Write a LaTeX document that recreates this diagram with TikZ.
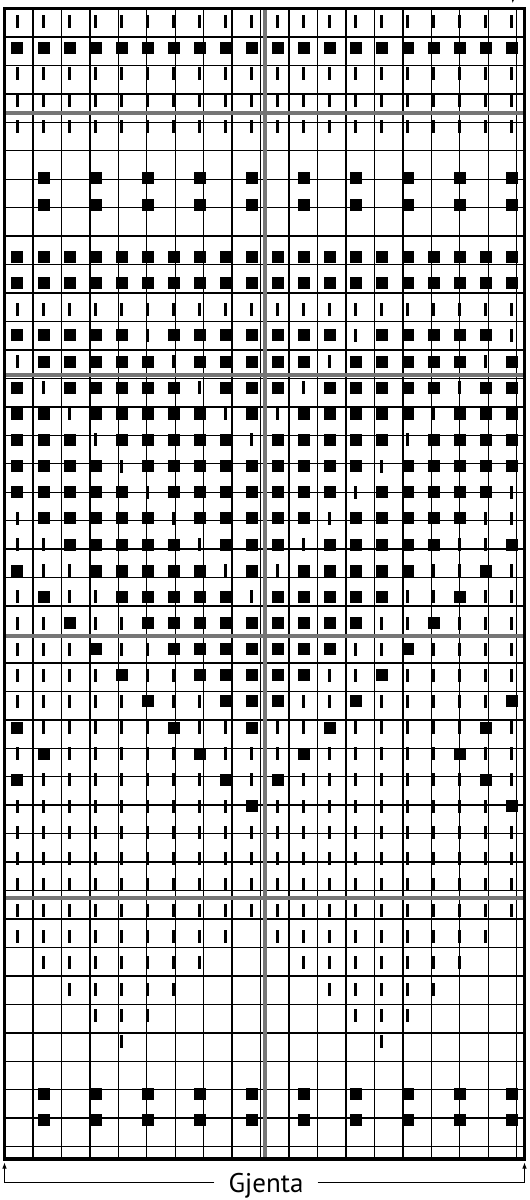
\documentclass[tikz,border=0pt]{standalone}
\usepackage{fontspec}
\setsansfont{PT Sans}
\usepackage{tikz}
\usetikzlibrary{arrows.meta}
\definecolor{chartgray}{RGB}{118, 118, 118}
\tikzset{
    cellline/.style={
        draw=black,
        line width=1.4pt
    },
    guide/.style={
        draw=chartgray,
        line width=4pt
    },
    frame/.style={
        draw=black,
        line width=3.4pt
    },
    sym0/.style={
        inner sep=0pt,
        minimum size=0pt
    },
    sym1/.style={
        fill=black,
        inner sep=0pt,
        minimum width=3pt,
        minimum height=13pt
    },
    sym2/.style={
        fill=black,
        inner sep=0pt,
        minimum width=12pt,
        minimum height=12pt
    },
    bracket/.style={
        -{Latex[length=6pt, width=4.6pt]},
        line width=1pt
    }
}

\begin{document}
\begin{tikzpicture}[
        x=26pt, y=-26.15pt,
        repeatlbl/.style={font=\sffamily\fontsize{27}{30}\selectfont, anchor=base,
            text height=19pt, text depth=0pt, inner xsep=14pt, inner ysep=0pt}
    ]
        \useasboundingbox (-4.5pt,8.5pt) rectangle (525.5pt,-1191.5pt);
        % 20 stitches wide, 44 rows high; row 1 is the top row.
        \draw[cellline] (0,0) grid (20,44);
        \draw[guide] (10,0) -- (10,44);
        \foreach \r in {4,14,24,34}
            \draw[guide] (0,\r) -- (20,\r);
        \draw[frame] (0,0) rectangle (20,44);

        % 0 = blank, 1 = bar, 2 = filled square
        \foreach \row [count=\r] in {
            {1,1,1,1,1,1,1,1,1,1,1,1,1,1,1,1,1,1,1,1},
            {2,2,2,2,2,2,2,2,2,2,2,2,2,2,2,2,2,2,2,2},
            {1,1,1,1,1,1,1,1,1,1,1,1,1,1,1,1,1,1,1,1},
            {1,1,1,1,1,1,1,1,1,1,1,1,1,1,1,1,1,1,1,1},
            {1,1,1,1,1,1,1,1,1,1,1,1,1,1,1,1,1,1,1,1},
            {0,0,0,0,0,0,0,0,0,0,0,0,0,0,0,0,0,0,0,0},
            {0,2,0,2,0,2,0,2,0,2,0,2,0,2,0,2,0,2,0,2},
            {0,2,0,2,0,2,0,2,0,2,0,2,0,2,0,2,0,2,0,2},
            {0,0,0,0,0,0,0,0,0,0,0,0,0,0,0,0,0,0,0,0},
            {2,2,2,2,2,2,2,2,2,2,2,2,2,2,2,2,2,2,2,2},
            {2,2,2,2,2,2,2,2,2,2,2,2,2,2,2,2,2,2,2,2},
            {1,1,1,1,1,1,1,1,1,1,1,1,1,1,1,1,1,1,1,1},
            {2,2,2,2,2,1,2,2,2,2,2,2,2,1,2,2,2,2,2,1},
            {1,2,2,2,2,2,1,2,2,2,2,2,1,2,2,2,2,2,1,2},
            {2,1,2,2,2,2,2,1,2,2,2,1,2,2,2,2,2,1,2,2},
            {2,2,1,2,2,2,2,2,1,2,1,2,2,2,2,2,1,2,2,2},
            {2,2,2,1,2,2,2,2,2,1,2,2,2,2,2,1,2,2,2,2},
            {2,2,2,2,1,2,2,2,2,2,2,2,2,2,1,2,2,2,2,2},
            {2,2,2,2,2,1,2,2,2,2,2,2,2,1,2,2,2,2,2,1},
            {1,2,2,2,2,2,1,2,2,2,2,2,1,2,2,2,2,2,1,1},
            {1,1,2,2,2,2,2,1,2,2,2,1,2,2,2,2,2,1,1,2},
            {2,1,1,2,2,2,2,2,1,2,1,2,2,2,2,2,1,1,2,1},
            {1,2,1,1,2,2,2,2,2,1,2,2,2,2,2,1,1,2,1,1},
            {1,1,2,1,1,2,2,2,2,2,2,2,2,2,1,1,2,1,1,1},
            {1,1,1,2,1,1,2,2,2,2,2,2,2,1,1,2,1,1,1,1},
            {1,1,1,1,2,1,1,2,2,2,2,2,1,1,2,1,1,1,1,1},
            {1,1,1,1,1,2,1,1,2,2,2,1,1,2,1,1,1,1,1,2},
            {2,1,1,1,1,1,2,1,1,2,1,1,2,1,1,1,1,1,2,1},
            {1,2,1,1,1,1,1,2,1,1,1,2,1,1,1,1,1,2,1,1},
            {2,1,1,1,1,1,1,1,2,1,2,1,1,1,1,1,1,1,2,1},
            {1,1,1,1,1,1,1,1,1,2,1,1,1,1,1,1,1,1,1,2},
            {1,1,1,1,1,1,1,1,1,1,1,1,1,1,1,1,1,1,1,1},
            {1,1,1,1,1,1,1,1,1,1,1,1,1,1,1,1,1,1,1,1},
            {1,1,1,1,1,1,1,1,1,1,1,1,1,1,1,1,1,1,1,1},
            {1,1,1,1,1,1,1,1,1,1,1,1,1,1,1,1,1,1,1,1},
            {1,1,1,1,1,1,1,1,1,0,1,1,1,1,1,1,1,1,1,0},
            {0,1,1,1,1,1,1,1,0,0,0,1,1,1,1,1,1,1,0,0},
            {0,0,1,1,1,1,1,0,0,0,0,0,1,1,1,1,1,0,0,0},
            {0,0,0,1,1,1,0,0,0,0,0,0,0,1,1,1,0,0,0,0},
            {0,0,0,0,1,0,0,0,0,0,0,0,0,0,1,0,0,0,0,0},
            {0,0,0,0,0,0,0,0,0,0,0,0,0,0,0,0,0,0,0,0},
            {0,2,0,2,0,2,0,2,0,2,0,2,0,2,0,2,0,2,0,2},
            {0,2,0,2,0,2,0,2,0,2,0,2,0,2,0,2,0,2,0,2},
            {0,0,0,0,0,0,0,0,0,0,0,0,0,0,0,0,0,0,0,0}}
            \foreach \c [count=\k] in \row
                \node[sym\c] (m-\r-\k) at (\k-0.5,\r-0.5) {};

        % repeat bracket under the chart
        \node[repeatlbl] (rep) at (10.06,45.26) {Gjenta};
        \coordinate (tipL) at (0,44.13);
        \coordinate (tipR) at (20,44.13);
        \draw[bracket] (rep.west) -| (tipL);
        \draw[bracket] (rep.east) -| (tipR);

        % start marker above the last stitch
        \coordinate (startA) at (19.55,-1);
        \coordinate (startB) at (19.55,-0.2);
        \draw[bracket] (startA) -- (startB);
    \end{tikzpicture}
\end{document}
